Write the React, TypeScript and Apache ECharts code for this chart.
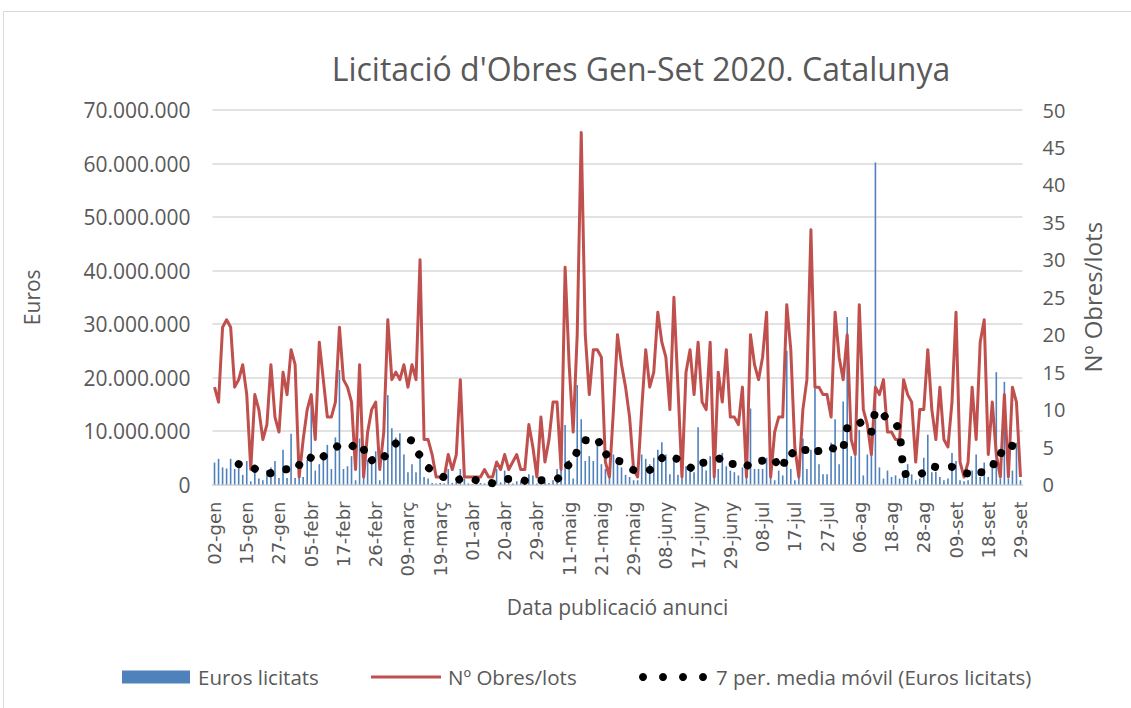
import React, { useEffect, useRef } from "react";
import * as echarts from "echarts";

const tickLabels = [
  "02-gen", "15-gen", "27-gen", "05-febr", "17-febr", "26-febr", "09-març", "19-març",
  "01-abr", "20-abr", "29-abr", "11-maig", "21-maig", "29-maig", "08-juny", "17-juny",
  "29-juny", "08-jul", "17-jul", "27-jul", "06-ag", "18-ag", "28-ag", "09-set", "18-set", "29-set",
];

// Euros licitats per day, in millions of euros
const eurosMillions = [
  4.1, 4.8, 3.2, 3.0, 4.8, 2.9, 3.8, 1.8, 4.4, 0.6, 2.3, 1.1, 0.8, 2.6, 3.2, 4.4, 1.2, 6.5, 1.2, 9.5,
  1.2, 1.7, 1.4, 4.6, 16.7, 2.6, 3.8, 5.6, 7.4, 2.9, 8.8, 21.4, 2.9, 3.4, 5.3, 0.8, 8.6, 4.1, 4.6, 4.8,
  6.2, 0.8, 5.9, 16.7, 10.5, 8.8, 9.6, 5.6, 2.3, 3.8, 2.3, 5.9, 1.4, 1.1, 0.3, 0.2, 0.3, 0.2, 2.9, 0.3,
  0.5, 2.9, 1.1, 0.2, 0.1, 0.1, 0.3, 0.2, 0.5, 0.3, 2.9, 0.4, 2.6, 0.3, 0.2, 0.6, 0.6, 0.3, 1.9, 1.7,
  0.2, 0.4, 0.5, 0.3, 0.8, 2.9, 5.9, 11.1, 4.6, 1.1, 18.6, 12.2, 4.4, 5.3, 4.4, 8.3, 3.8, 2.9, 2.3, 5.6,
  3.8, 3.2, 1.8, 1.4, 0.8, 0.8, 5.6, 4.8, 3.8, 5.0, 6.5, 7.9, 5.6, 1.9, 4.4, 1.8, 2.3, 3.4, 3.2, 2.3,
  10.7, 4.6, 2.6, 5.3, 4.4, 2.9, 5.9, 3.4, 2.6, 2.3, 1.7, 3.2, 3.4, 14.2, 2.9, 2.9, 2.9, 5.0, 4.4, 0.8,
  2.6, 1.7, 25.0, 2.9, 0.8, 3.4, 8.6, 2.9, 6.5, 18.0, 3.8, 1.9, 1.9, 7.8, 12.2, 3.8, 15.5, 31.3, 5.3, 5.3,
  10.2, 1.7, 5.6, 9.6, 60.2, 3.2, 1.1, 2.6, 1.4, 1.7, 1.1, 2.3, 3.8, 1.9, 0.8, 1.1, 5.0, 9.3, 2.3, 2.4,
  1.4, 0.8, 1.1, 5.9, 4.4, 0.8, 0.6, 0.8, 2.6, 5.6, 1.4, 4.1, 1.4, 4.1, 21.0, 1.1, 19.2, 1.1, 2.6, 7.8,
  0.8,
];

// Nº Obres/lots per day
const obresLots = [
  13, 11, 21, 22, 21, 13, 14, 16, 12, 2, 12, 10, 6, 8, 16, 9, 7, 15, 12, 18,
  16, 1, 6, 10, 12, 6, 19, 14, 9, 9, 11, 21, 14, 13, 11, 2, 16, 1, 7, 10,
  11, 2, 7, 22, 14, 15, 14, 16, 13, 16, 14, 30, 6, 6, 4, 1, 1, 1, 4, 2,
  4, 14, 1, 1, 1, 1, 1, 2, 1, 1, 3, 2, 4, 2, 3, 4, 2, 2, 8, 5,
  1, 9, 3, 6, 11, 11, 2, 29, 16, 7, 20, 47, 20, 12, 18, 18, 17, 3, 1, 10,
  20, 16, 13, 9, 2, 1, 10, 18, 13, 15, 23, 19, 17, 10, 25, 13, 1, 15, 18, 12,
  19, 11, 10, 19, 1, 15, 11, 18, 9, 9, 8, 13, 1, 20, 16, 14, 17, 23, 1, 7,
  9, 9, 24, 18, 5, 1, 10, 14, 34, 13, 13, 12, 12, 9, 23, 17, 14, 20, 6, 4,
  24, 10, 8, 4, 13, 12, 14, 7, 7, 6, 6, 14, 12, 11, 3, 10, 10, 18, 10, 6,
  13, 6, 5, 11, 23, 3, 1, 3, 13, 6, 19, 22, 4, 11, 4, 1, 12, 1, 13, 11,
  1,
];

const seriesNames = ["Euros licitats", "Nº Obres/lots", "7 per. media móvil (Euros licitats)"];

const MA_PERIOD = 7;

// one category per publication day; only every 8th day carries a tick label
const categories = eurosMillions.map((_, i) =>
  i % 8 === 0 ? tickLabels[i / 8] : `${tickLabels[Math.floor(i / 8)]} +${i % 8}`
);

const euros = eurosMillions.map((v) => Math.round(v * 1e6));
const movingAverage = euros.map((_, i) => {
  if (i < MA_PERIOD - 1) return null;
  let s = 0;
  for (let k = i - MA_PERIOD + 1; k <= i; k++) s += euros[k];
  return s / MA_PERIOD;
});

const fmtThousands = (v: number) =>
  String(Math.round(v)).replace(/\B(?=(\d{3})+(?!\d))/g, ".");

const TEXT = "#595959";
const GRID = "#D9D9D9";
const BLUE = "#4F81BD";
const RED = "#C0504D";
const FONT = "'Open Sans', sans-serif";

const LEGEND_Y = 677;
const legendText = (x: number, text: string) => ({
  type: "text",
  x,
  y: LEGEND_Y,
  silent: true,
  style: {
    text,
    fill: TEXT,
    font: `20.5px ${FONT}`,
    verticalAlign: "middle",
    align: "left",
  },
});

export default function App() {
  const ref = useRef<HTMLDivElement>(null);

  useEffect(() => {
    if (!ref.current) return;
    const chart = echarts.init(ref.current, undefined, { renderer: "svg" });
    chart.setOption({
      animation: false,
      backgroundColor: "#ffffff",
      textStyle: { fontFamily: FONT },
      title: {
        text: "Licitació d'Obres Gen-Set 2020. Catalunya",
        left: 636,
        top: 47,
        textAlign: "center",
        textStyle: { fontFamily: FONT, fontSize: 32, fontWeight: "normal", color: TEXT },
      },
      graphic: [
        {
          type: "rect",
          shape: { x: 3.5, y: 11.5, width: 1200, height: 1000 },
          style: { fill: "none", stroke: GRID, lineWidth: 1 },
          silent: true,
          z: -10,
        },
        {
          type: "rect",
          silent: true,
          shape: { x: 122, y: LEGEND_Y - 6.5, width: 68, height: 13 },
          style: { fill: BLUE },
        },
        legendText(198, seriesNames[0]),
        {
          type: "line",
          silent: true,
          shape: { x1: 371, y1: LEGEND_Y, x2: 441, y2: LEGEND_Y },
          style: { stroke: RED, lineWidth: 3 },
        },
        legendText(448, seriesNames[1]),
        ...[643, 663, 683, 703].map((cx) => ({
          type: "circle",
          silent: true,
          shape: { cx, cy: LEGEND_Y, r: 4 },
          style: { fill: "#000000" },
        })),
        legendText(716, seriesNames[2]),
      ],
      grid: { left: 212.5, right: 108.5, top: 110, bottom: 223.5 },
      xAxis: {
        type: "category",
        data: categories,
        boundaryGap: true,
        name: "Data publicació anunci",
        nameLocation: "middle",
        nameGap: 112,
        nameTextStyle: { fontFamily: FONT, fontSize: 21, color: TEXT },
        axisLine: { show: true, lineStyle: { color: GRID, width: 1.5 } },
        axisTick: { show: false },
        axisLabel: {
          interval: 7,
          rotate: 90,
          margin: 17,
          fontFamily: "'DejaVu Sans', sans-serif",
          fontSize: 18,
          color: TEXT,
          formatter: (_v: string, i: number) => (i % 8 === 0 ? tickLabels[i / 8] : ""),
        },
      },
      yAxis: [
        {
          type: "value",
          min: 0,
          max: 70000000,
          interval: 10000000,
          name: "Euros",
          nameLocation: "middle",
          nameRotate: 90,
          nameGap: 170,
          nameTextStyle: { fontFamily: FONT, fontSize: 21, color: TEXT },
          axisLine: { show: false },
          axisTick: { show: false },
          splitLine: { lineStyle: { color: GRID, width: 1.5 } },
          axisLabel: {
            fontFamily: FONT,
            fontSize: 21,
            color: TEXT,
            margin: 22,
            formatter: (v: number) => fmtThousands(v),
          },
        },
        {
          type: "value",
          min: 0,
          max: 50,
          interval: 5,
          name: "Nº Obres/lots",
          nameLocation: "middle",
          nameRotate: 90,
          nameGap: 58,
          nameTextStyle: { fontFamily: FONT, fontSize: 24, color: TEXT },
          axisLine: { show: false },
          axisTick: { show: false },
          splitLine: { show: false },
          axisLabel: { fontFamily: FONT, fontSize: 20, color: TEXT, margin: 20 },
        },
      ],
      series: [
        {
          name: seriesNames[0],
          type: "bar",
          yAxisIndex: 0,
          data: euros,
          barWidth: 1.6,
          itemStyle: { color: BLUE },
          z: 1,
        },
        {
          name: seriesNames[1],
          type: "line",
          yAxisIndex: 1,
          data: obresLots,
          symbol: "none",
          lineStyle: { color: RED, width: 3, join: "round" },
          itemStyle: { color: RED },
          z: 2,
        },
        {
          name: seriesNames[2],
          type: "line",
          yAxisIndex: 0,
          data: movingAverage,
          symbol: "none",
          lineStyle: { color: "#000000", width: 8, type: [0.01, 17], cap: "round" },
          itemStyle: { color: "#000000" },
          z: 3,
        },
      ],
    });
    return () => chart.dispose();
  }, []);

  return (
    <div
      ref={ref}
      style={{ position: "fixed", left: 0, top: 0, width: 1131, height: 708 }}
    />
  );
}
